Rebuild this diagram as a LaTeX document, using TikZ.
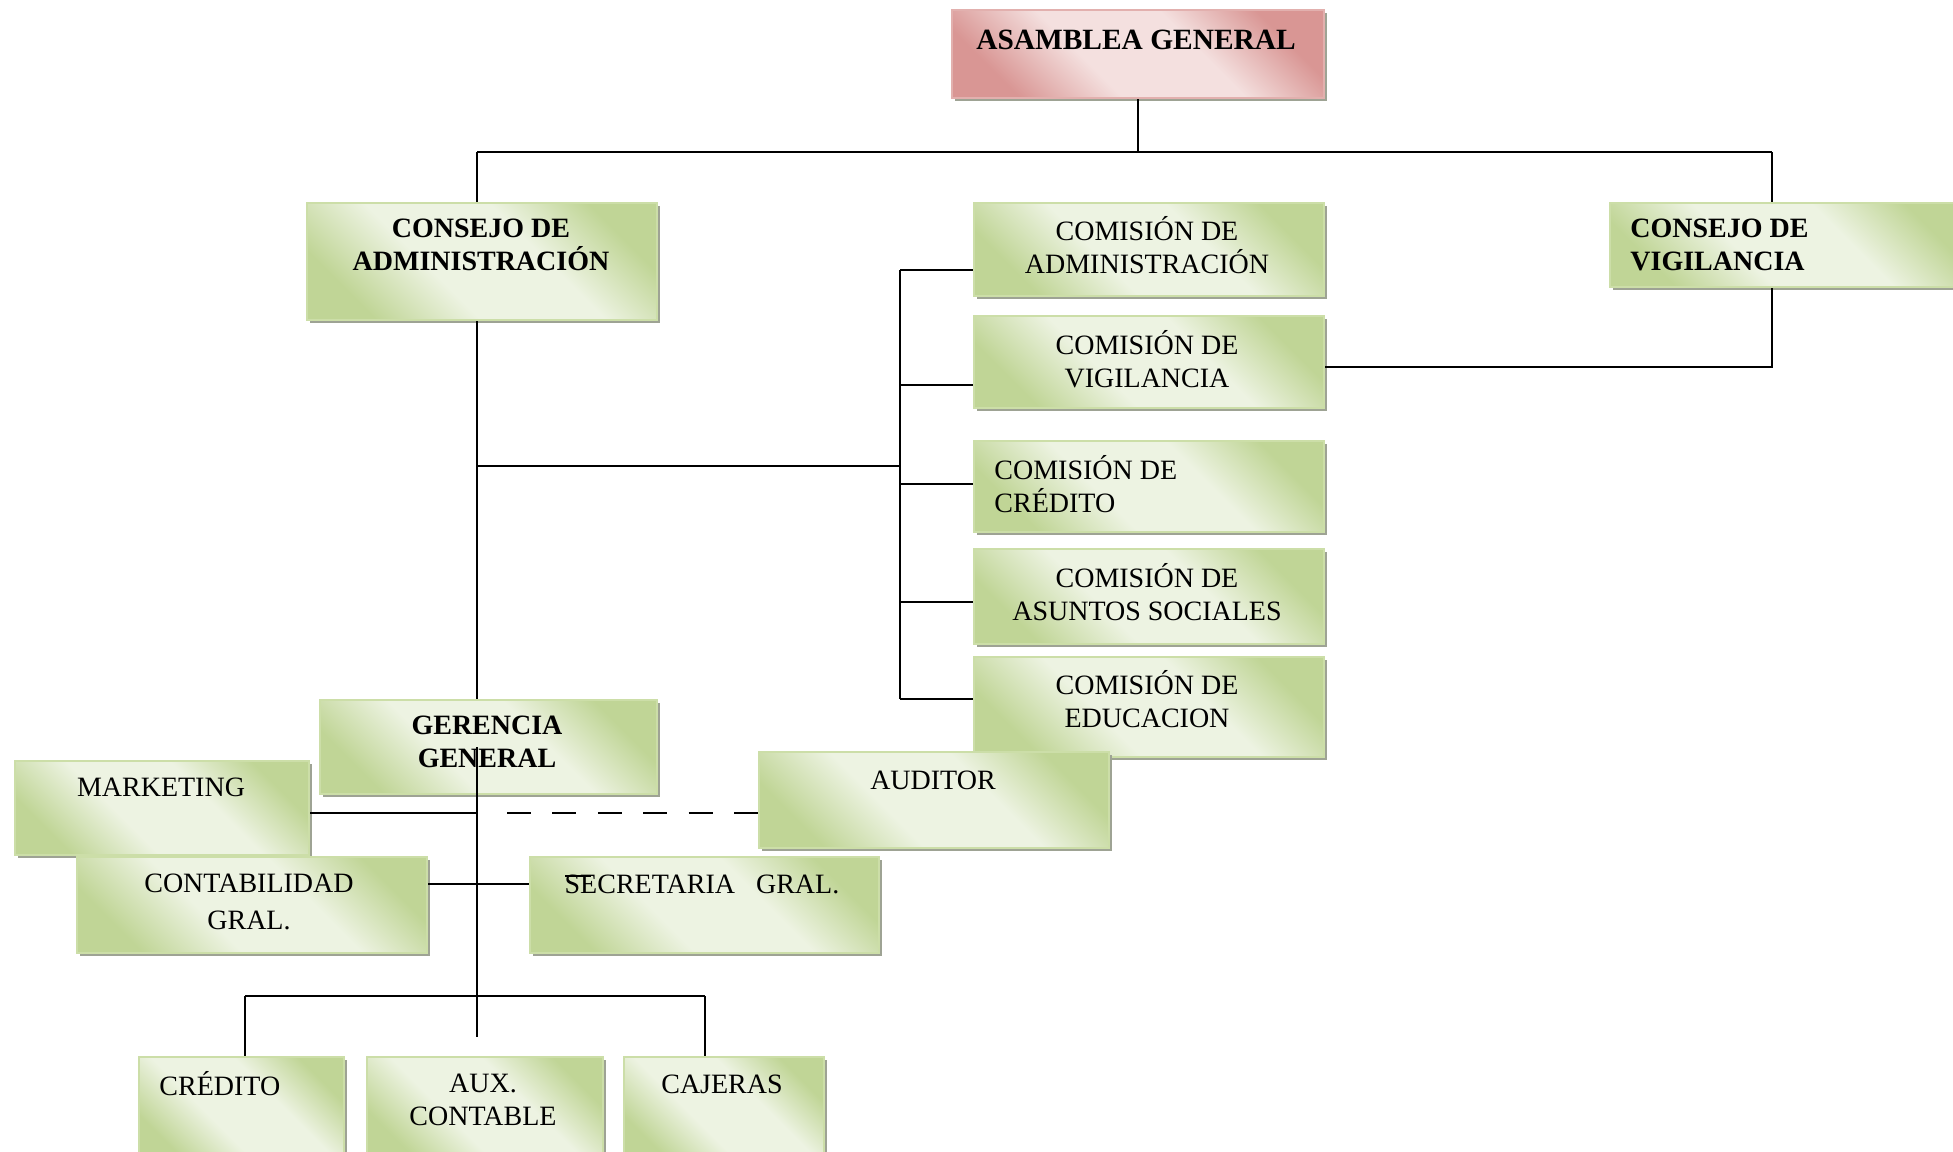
\documentclass[tikz,border=0pt]{standalone}
\usepackage{fontspec}
\setmainfont{Liberation Serif}
\usetikzlibrary{shadows}

% palette
\definecolor{gdark}{RGB}{192,213,150}
\definecolor{glight}{RGB}{237,243,226}
\definecolor{gedge}{RGB}{204,222,168}
\definecolor{pdark}{RGB}{217,150,148}
\definecolor{plight}{RGB}{244,224,223}
\definecolor{pedge}{RGB}{226,176,174}
\definecolor{shadowgray}{RGB}{158,163,148}

% diagonal fills with a wide pale band across the middle
\pgfdeclareverticalshading{greenfill}{100bp}{color(0bp)=(gdark); color(25bp)=(gdark);
  color(41bp)=(glight); color(60bp)=(glight); color(75bp)=(gdark); color(100bp)=(gdark)}
\pgfdeclareverticalshading{pinkfill}{100bp}{color(0bp)=(pdark); color(25bp)=(pdark);
  color(41bp)=(plight); color(60bp)=(plight); color(75bp)=(pdark); color(100bp)=(pdark)}

\tikzset{
  box/.style={rectangle, anchor=north west, inner sep=0pt, line width=1.2pt,
    general shadow={fill=shadowgray, shadow xshift=1.6pt, shadow yshift=-1.6pt}},
  gbox/.style={box, draw=gedge, shading=greenfill, shading angle=-45},
  pbox/.style={box, draw=pedge, shading=pinkfill, shading angle=-45},
  sz/.style 2 args={minimum width=#1, minimum height=#2},
  lbl/.style={font=\fontsize{14}{16.5}\selectfont, align=center, inner sep=0pt},
  lbll/.style={lbl, align=left, anchor=west},
  bold/.style={lbl, font=\fontsize{14}{16.5}\selectfont\bfseries},
  link/.style={line width=0.8pt, draw=black},
}

\begin{document}
\begin{tikzpicture}[x=0.5pt, y=-0.5pt]
\useasboundingbox (0,0) rectangle (1953,1151);

% ---- boxes ----
\node[pbox, sz={186pt}{44pt}]    (asam)    at (951,9)    {};
\node[gbox, sz={175pt}{58.5pt}]  (cadm)    at (306,202)  {};
\node[gbox, sz={175pt}{46.5pt}]  (comadm)  at (973,202)  {};
\node[gbox, sz={180pt}{42pt}]    (cvig)    at (1609,202) {};
\node[gbox, sz={175pt}{46pt}]    (comvig)  at (973,315)  {};
\node[gbox, sz={175pt}{45.5pt}]  (comcred) at (973,440)  {};
\node[gbox, sz={175pt}{47.5pt}]  (comsoc)  at (973,548)  {};
\node[gbox, sz={175pt}{50pt}]    (comedu)  at (973,656)  {};
\node[gbox, sz={168.5pt}{47pt}]  (ger)     at (319,699)  {};
\node[gbox, sz={147pt}{47pt}]    (mkt)     at (14,760)   {};
\node[gbox, sz={175pt}{48pt}]    (aud)     at (758,751)  {};
\node[gbox, sz={175pt}{48pt}]    (cont)    at (76,856)   {};
\node[gbox, sz={174.5pt}{48pt}]  (secr)    at (529,856)  {};
\node[gbox, sz={102.5pt}{52pt}]  (cred)    at (138,1056) {};
\node[gbox, sz={118pt}{52pt}]    (aux)     at (366,1056) {};
\node[gbox, sz={100pt}{52pt}]    (caj)     at (623,1056) {};

% ---- labels ----
\node[bold, font=\fontsize{14.7}{17}\selectfont\bfseries] (asam-t) at (1136,40) {ASAMBLEA GENERAL};
\node[bold]  (cadm-t)    at (481,245)  {CONSEJO DE\\ADMINISTRACIÓN};
\node[lbl]   (comadm-t)  at (1147,245) {COMISIÓN DE\\ADMINISTRACIÓN};
\node[bold, align=left, anchor=west] (cvig-t) at (1630,245) {CONSEJO DE\\VIGILANCIA};
\node[lbl]   (comvig-t)  at (1147,359) {COMISIÓN DE\\VIGILANCIA};
\node[lbll]  (comcred-t) at (994,484)  {COMISIÓN DE\\CRÉDITO};
\node[lbl]   (comsoc-t)  at (1147,592) {COMISIÓN DE\\ASUNTOS SOCIALES};
\node[lbl]   (comedu-t)  at (1147,699) {COMISIÓN DE\\EDUCACION};
\node[bold]  (ger-t)     at (487,742)  {GERENCIA\\GENERAL};
\node[lbl]   (mkt-t)     at (161,787)  {MARKETING};
\node[lbl]   (aud-t)     at (933,780)  {AUDITOR};
\node[lbl]   (cont-t)    at (249,902)  {CONTABILIDAD\\[2pt]GRAL.};
\node[lbl]   (secr-t)    at (702,884)  {SECRETARIA\ \ \ GRAL.};
\node[lbll]  (cred-t)    at (159,1084) {CRÉDITO};
\node[lbl]   (aux-t)     at (483,1100) {AUX.\\CONTABLE};
\node[lbl]   (caj-t)     at (722,1084) {CAJERAS};

% ---- junction points ----
\coordinate (tL) at (477,152);
\coordinate (tR) at (1772,152);
\coordinate (cJ) at (477,466);
\coordinate (bus) at (900,466);
\coordinate (mJ) at (477,813);
\coordinate (dS) at (507,813);
\coordinate (kJ) at (477,884);
\coordinate (gMid) at (477,747);
\coordinate (mEnd) at (477,1037);
\coordinate (bL) at (245,996);
\coordinate (bR) at (705,996);
\coordinate (busTop) at (900,270);
\coordinate (busBot) at (900,699);

% ---- connectors ----
\draw[link] (asam.south) -- (asam.south |- tL);
\draw[link] (tL) -- (tR);
\draw[link] (tL) -- (tL |- cadm.north);
\draw[link] (tR) -- (tR |- cvig.north);
\draw[link] ([yshift=-2.5pt]comvig.east) -| (tR |- cvig.south);

\draw[link] (tL |- cadm.south) -- (tL |- ger.north);
\draw[link] (gMid) -- (mEnd);
\draw[link] (cJ) -- (bus);
\draw[link] (busTop) -- (busBot);
\draw[link] (busTop) -- (busTop -| comadm.west);
\draw[link] (900,385) coordinate (b2) -- (b2 -| comvig.west);
\draw[link] (900,484) coordinate (b3) -- (b3 -| comcred.west);
\draw[link] (900,602) coordinate (b4) -- (b4 -| comsoc.west);
\draw[link] (busBot) -- (busBot -| comedu.west);

\draw[link] (mJ -| mkt.east) -- (mJ);
\draw[link, dash pattern=on 12pt off 10.7pt] (dS) -- (dS -| aud.west);
\draw[link] (kJ -| cont.east) -- (kJ -| secr.west);
\draw[line width=0.6pt] (565,876) coordinate (sA) -- ([xshift=13pt]sA);

\draw[link] (bL) -- (bR);
\draw[link] (bL) -- (bL |- cred.north);
\draw[link] (bR) -- (bR |- caj.north);
\end{tikzpicture}
\end{document}
